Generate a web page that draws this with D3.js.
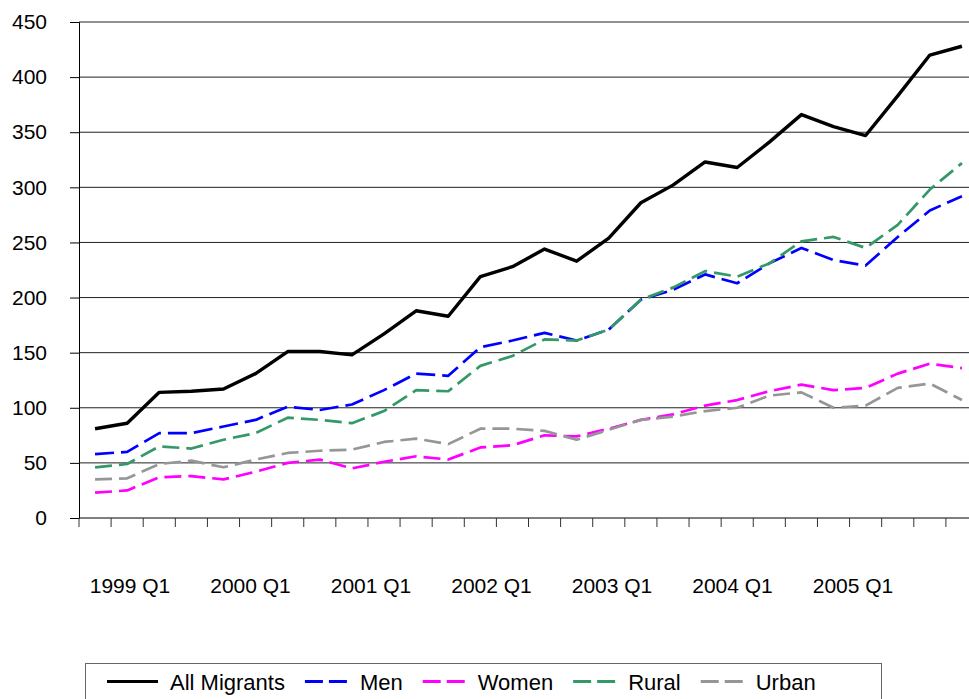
<!DOCTYPE html>
<html>
<head>
<meta charset="utf-8">
<script src="https://cdn.jsdelivr.net/npm/d3@7/dist/d3.min.js"></script>
<style>
  body { margin: 0; background: #fff; }
  text { font-family: Arial, "Liberation Sans", sans-serif; fill: #000; }
</style>
</head>
<body>
<div id="chart"></div>
<script>
// quarters 1999 Q1 .. 2005 Q4
const years = [1999, 2000, 2001, 2002, 2003, 2004, 2005];
const quarters = years.flatMap((yr) => [1, 2, 3, 4].map((q) => `${yr} Q${q}`));
const tickLabels = years.map((yr) => `${yr} Q1`);

const allMigrants = [81, 86, 114, 115, 117, 131, 151, 151, 148, 167, 188, 183,
  219, 228, 244, 233, 254, 286, 302, 323, 318, 341, 366, 355, 347, 383, 420, 428];
const men = [58, 60, 77, 77, 83, 89, 101, 98, 103, 116, 131, 129,
  155, 161, 168, 161, 171, 198, 207, 221, 213, 231, 245, 234, 229, 255, 279, 292];
const women = [23, 25, 37, 38, 35, 42, 50, 53, 45, 51, 56, 53,
  64, 66, 75, 74, 81, 89, 94, 102, 107, 115, 121, 116, 118, 131, 140, 136];
const rural = [46, 49, 65, 63, 71, 77, 91, 89, 86, 97, 116, 115,
  138, 147, 162, 161, 171, 198, 209, 224, 219, 231, 251, 255, 245, 266, 298, 322];
const urban = [35, 36, 49, 52, 46, 53, 59, 61, 62, 69, 72, 67,
  81, 81, 79, 71, 80, 89, 92, 97, 100, 111, 114, 100, 102, 118, 122, 107];

const series = [
  { name: "All Migrants", values: allMigrants, color: "#000000", width: 3.4, dash: null },
  { name: "Men", values: men, color: "#0000ff", width: 2.7, dash: "19,7" },
  { name: "Women", values: women, color: "#ff00ff", width: 2.7, dash: "17,7" },
  { name: "Rural", values: rural, color: "#339966", width: 2.7, dash: "17,7" },
  { name: "Urban", values: urban, color: "#969696", width: 2.7, dash: "17,7" },
];

const width = 969, height = 699;
// plot area runs a little past the right edge of the window
const plotLeft = 79, plotTop = 22, plotBottom = 518, plotRight = 978;

const svg = d3.select("#chart").append("svg")
  .attr("width", width)
  .attr("height", height);

const x = d3.scaleBand().domain(quarters).range([plotLeft, plotRight]).padding(0);
const y = d3.scaleLinear().domain([0, 450]).range([plotBottom, plotTop]);

// gridlines
svg.append("g")
  .selectAll("line")
  .data(y.ticks(9).filter((d) => d > 0))
  .join("line")
  .attr("x1", plotLeft).attr("x2", plotRight)
  .attr("y1", (d) => y(d)).attr("y2", (d) => y(d))
  .attr("stroke", "#222")
  .attr("stroke-width", 1);

// y axis
const yAxis = svg.append("g")
  .attr("transform", `translate(${plotLeft},0)`)
  .call(d3.axisLeft(y).ticks(9).tickSize(9).tickPadding(23));
yAxis.select(".domain").attr("stroke", "#000");
yAxis.selectAll(".tick line").attr("stroke", "#000");
yAxis.selectAll("text").style("font-size", "21px").attr("fill", "#000")
  .attr("font-family", "Arial, 'Liberation Sans', sans-serif");

// x axis: ticks at category boundaries
svg.append("line")
  .attr("x1", plotLeft).attr("x2", plotRight)
  .attr("y1", plotBottom).attr("y2", plotBottom)
  .attr("stroke", "#000");
svg.append("g")
  .selectAll("line")
  .data(quarters)
  .join("line")
  .attr("x1", (d) => x(d)).attr("x2", (d) => x(d))
  .attr("y1", plotBottom).attr("y2", plotBottom + 9)
  .attr("stroke", "#333");

const labelX = d3.scalePoint().domain(tickLabels).range([130, 853]);
svg.append("g")
  .selectAll("text")
  .data(tickLabels)
  .join("text")
  .attr("x", (d) => labelX(d))
  .attr("y", 593)
  .attr("text-anchor", "middle")
  .style("font-size", "21px")
  .text((d) => d);

// lines
const line = d3.line()
  .x((d, i) => x(quarters[i]) + x.bandwidth() / 2)
  .y((d) => y(d));

svg.append("g")
  .selectAll("path")
  .data(series)
  .join("path")
  .attr("d", (d) => line(d.values))
  .attr("fill", "none")
  .attr("stroke", (d) => d.color)
  .attr("stroke-width", (d) => d.width)
  .attr("stroke-dasharray", (d) => d.dash)
  .attr("stroke-linejoin", "round");

// legend
const legend = svg.append("g");
legend.append("rect")
  .attr("x", 85.5).attr("y", 663.5)
  .attr("width", 796).attr("height", 60)
  .attr("fill", "#fff")
  .attr("stroke", "#666");

let lx = 107;
series.forEach((s, i) => {
  const len = i === 0 ? 51 : 43;
  legend.append("line")
    .attr("x1", lx).attr("x2", lx + len)
    .attr("y1", 681.5).attr("y2", 681.5)
    .attr("stroke", s.color)
    .attr("stroke-width", 3.2)
    .attr("stroke-dasharray", s.dash ? "18,6" : null);
  const t = legend.append("text")
    .attr("x", lx + len + 12)
    .attr("y", 690)
    .style("font-size", "22px")
    .text(s.name);
  lx += len + 12 + t.node().getComputedTextLength() + 20;
});
</script>
</body>
</html>
